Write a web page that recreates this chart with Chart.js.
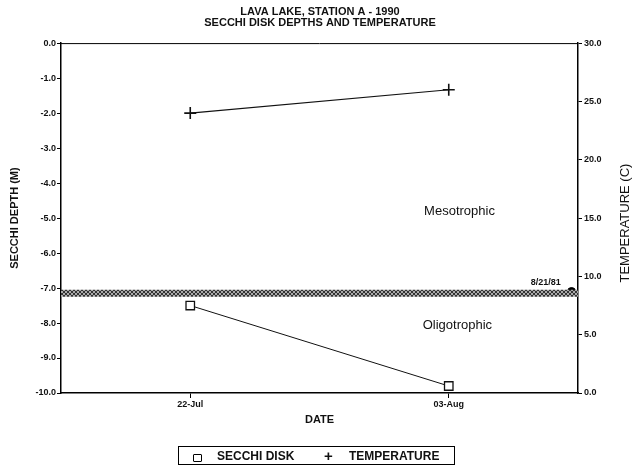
<!DOCTYPE html>
<html>
<head>
<meta charset="utf-8">
<script src="https://cdn.jsdelivr.net/npm/chart.js@4/dist/chart.umd.min.js"></script>
<style>
  body { margin: 0; background: #fff; }
  #wrap { position: relative; width: 640px; height: 473px; }
  #legend {
    position: absolute; left: 178px; top: 446px; width: 277px; height: 19px;
    border: 1px solid #000; box-sizing: border-box;
    font: bold 12px "Liberation Sans", Arial, sans-serif; color: #111;
  }
  #legend span { position: absolute; top: 2px; }
  .sq { display: inline-block; width: 7px; height: 6px; border: 1.3px solid #000; border-radius: 1px; }
</style>
</head>
<body>
<div id="wrap">
  <canvas id="chart" width="640" height="473"></canvas>
  <div id="legend">
    <span style="left:14px;top:4px"><i class="sq"></i></span>
    <span style="left:38px">SECCHI DISK</span>
    <span style="left:145px;top:0px;font-size:15px">+</span>
    <span style="left:170px">TEMPERATURE</span>
  </div>
</div>
<script>
// days counted from 22-Jul-1990
const sampleDays = [0, 12];
const tickDays = [0, 12];
const tickLabels = ['22-Jul', '03-Aug'];
const secchiDepth = [-7.5, -9.8];
const temperature = [24.0, 26.0];
const boundaryDays = [-6, 18];
const boundaryDepth = [-7.15, -7.15];
const refDays = [17.7];
const refDepth = [-7.1];

// hatched band pattern
const pc = document.createElement('canvas');
pc.width = 4; pc.height = 4;
const pctx = pc.getContext('2d');
pctx.fillStyle = '#aaa';
pctx.fillRect(0, 0, 4, 4);
pctx.fillStyle = '#333';
[[0,0],[1,1],[2,2],[3,3],[3,0],[2,1],[1,2],[0,3]].forEach(p => pctx.fillRect(p[0], p[1], 1, 1));

const ctx = document.getElementById('chart').getContext('2d');
const hatch = ctx.createPattern(pc, 'repeat');

const FONT = '"Liberation Sans", Arial, sans-serif';

const notes = {
  id: 'notes',
  afterDatasetsDraw(chart) {
    const c = chart.ctx, x = chart.scales.x, y = chart.scales.y, a = chart.chartArea;
    c.save();
    // frame top line
    c.strokeStyle = '#000';
    c.lineWidth = 1;
    c.beginPath();
    c.moveTo(a.left, a.top + 0.5);
    c.lineTo(a.right, a.top + 0.5);
    c.stroke();
    c.fillStyle = '#111';
    c.textAlign = 'center';
    c.textBaseline = 'middle';
    c.font = '13px ' + FONT;
    c.fillText('Mesotrophic', x.getPixelForValue(12.5), y.getPixelForValue(-4.82));
    c.fillText('Oligotrophic', x.getPixelForValue(12.4), y.getPixelForValue(-8.08));
    c.font = 'bold 9px ' + FONT;
    c.fillText('8/21/81', x.getPixelForValue(16.5), y.getPixelForValue(-6.85));
    // right axis title, reading bottom to top
    c.translate(625, (a.top + a.bottom) / 2 + 5);
    c.rotate(-Math.PI / 2);
    c.font = '13px ' + FONT;
    c.fillText('TEMPERATURE (C)', 0, 0);
    c.restore();
  }
};

new Chart(ctx, {
  type: 'line',
  data: {
    datasets: [
      {
        label: 'boundary',
        data: boundaryDays.map((d, i) => ({ x: d, y: boundaryDepth[i] })),
        borderColor: hatch,
        borderWidth: 7,
        pointRadius: 0,
        yAxisID: 'y'
      },
      {
        label: 'SECCHI DISK',
        data: sampleDays.map((d, i) => ({ x: d, y: secchiDepth[i] })),
        borderColor: '#111',
        borderWidth: 1,
        pointStyle: 'rect',
        pointRadius: 6,
        pointBorderWidth: 1.3,
        pointBackgroundColor: '#fff',
        yAxisID: 'y'
      },
      {
        label: 'TEMPERATURE',
        data: sampleDays.map((d, i) => ({ x: d, y: temperature[i] })),
        borderColor: '#111',
        borderWidth: 1.2,
        pointStyle: 'cross',
        pointRadius: 6,
        pointBorderWidth: 1.6,
        yAxisID: 'y2'
      },
      {
        label: '8/21/81',
        data: refDays.map((d, i) => ({ x: d, y: refDepth[i] })),
        showLine: false,
        pointRadius: 4,
        pointBackgroundColor: '#000',
        pointBorderColor: '#000',
        yAxisID: 'y'
      }
    ]
  },
  options: {
    responsive: false,
    animation: false,
    layout: { padding: { top: 0, bottom: 46, left: 0, right: 0 } },
    plugins: {
      legend: { display: false },
      tooltip: { enabled: false },
      title: {
        display: true,
        text: ['LAVA LAKE, STATION A - 1990', 'SECCHI DISK DEPTHS AND TEMPERATURE'],
        color: '#111',
        font: { family: FONT, size: 11, weight: 'bold', lineHeight: 1.05 },
        padding: { top: 6, bottom: 14 }
      }
    },
    scales: {
      x: {
        type: 'linear',
        min: -6,
        max: 18,
        afterBuildTicks: s => { s.ticks = tickDays.map(v => ({ value: v })); },
        afterFit: s => { s.height = 34; },
        ticks: {
          callback: v => tickLabels[tickDays.indexOf(v)],
          color: '#111',
          font: { family: FONT, size: 9, weight: 'bold' },
          padding: 1,
          maxRotation: 0
        },
        grid: { drawOnChartArea: false, color: '#000', tickLength: 5 },
        border: { color: '#000', width: 1.5 },
        title: {
          display: true, text: 'DATE', color: '#111',
          font: { family: FONT, size: 11, weight: 'bold' },
          padding: 0
        }
      },
      y: {
        position: 'left',
        min: -10,
        max: 0,
        afterFit: s => { s.width = 61; },
        ticks: {
          stepSize: 1,
          callback: v => v.toFixed(1),
          color: '#111',
          font: { family: FONT, size: 9, weight: 'bold' },
          padding: 1
        },
        grid: { drawOnChartArea: false, color: '#000', tickLength: 4 },
        border: { color: '#000', width: 1.5 },
        title: {
          display: true, text: 'SECCHI DEPTH (M)', color: '#111',
          font: { family: FONT, size: 11, weight: 'bold' },
          padding: { top: 8, bottom: 0 }
        }
      },
      y2: {
        position: 'right',
        min: 0,
        max: 30,
        afterFit: s => { s.width = 62; },
        ticks: {
          stepSize: 5,
          callback: v => v.toFixed(1),
          color: '#111',
          font: { family: FONT, size: 9, weight: 'bold' },
          padding: 2
        },
        grid: { drawOnChartArea: false, color: '#000', tickLength: 4 },
        border: { color: '#000', width: 1.5 }
      }
    }
  },
  plugins: [notes]
});
</script>
</body>
</html>
